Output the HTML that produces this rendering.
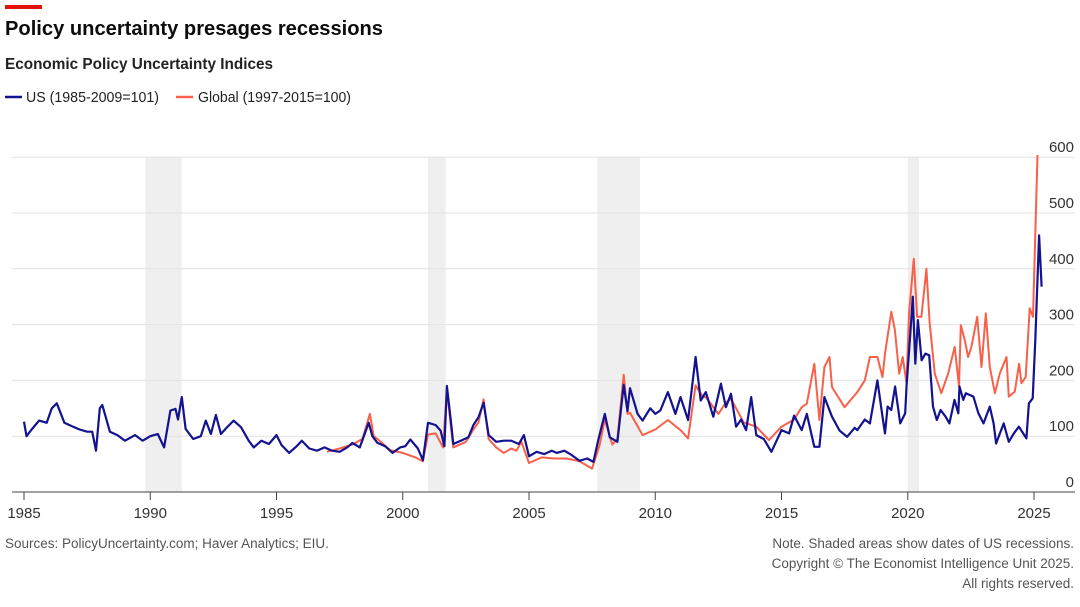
<!DOCTYPE html>
<html><head><meta charset="utf-8"><style>
body{margin:0;background:#fff;width:1080px;height:602px;overflow:hidden;font-family:"Liberation Sans",sans-serif;}
svg text{font-family:"Liberation Sans",sans-serif;}
</style></head><body>
<svg id="chart" width="1080" height="602" xmlns="http://www.w3.org/2000/svg">
<rect x="5" y="5" width="37" height="4" fill="#e3120b"/>
<text x="5" y="35" font-size="20" font-weight="bold" fill="#0c0c0c" textLength="378" lengthAdjust="spacingAndGlyphs">Policy uncertainty presages recessions</text>
<text x="5" y="69" font-size="15.5" font-weight="bold" fill="#222" textLength="268" lengthAdjust="spacingAndGlyphs">Economic Policy Uncertainty Indices</text>
<g>
<line x1="5" y1="97" x2="22" y2="97" stroke="#13128f" stroke-width="2.5"/>
<text x="26" y="102" font-size="14.5" fill="#222" textLength="133" lengthAdjust="spacingAndGlyphs">US (1985-2009=101)</text>
<line x1="176" y1="97" x2="193" y2="97" stroke="#f8604a" stroke-width="2.5"/>
<text x="198" y="102" font-size="14.5" fill="#222" textLength="153" lengthAdjust="spacingAndGlyphs">Global (1997-2015=100)</text>
</g>
<g id="rec"></g><g id="grid"></g><g id="xaxis"></g><g id="lines"></g>
<text x="5" y="548" font-size="13.5" fill="#555">Sources: PolicyUncertainty.com; Haver Analytics; EIU.</text>
<text x="1074" y="548" font-size="13.5" fill="#555" text-anchor="end">Note. Shaded areas show dates of US recessions.</text>
<text x="1074" y="568" font-size="13.5" fill="#555" text-anchor="end">Copyright © The Economist Intelligence Unit 2025.</text>
<text x="1074" y="588" font-size="13.5" fill="#555" text-anchor="end">All rights reserved.</text>
</svg>
<script>
const recStart=[1989.8,2001.0,2007.7,2020.0];
const recEnd=[1991.25,2001.7,2009.4,2020.45];
const yTicks=[0,100,200,300,400,500,600];
const xTicks=[1985,1990,1995,2000,2005,2010,2015,2020,2025];
const usYears=[1985.0,1985.1,1985.3,1985.6,1985.9,1986.1,1986.3,1986.6,1986.9,1987.2,1987.5,1987.7,1987.85,1988.0,1988.1,1988.4,1988.7,1989.0,1989.4,1989.7,1990.0,1990.3,1990.55,1990.8,1991.0,1991.1,1991.25,1991.4,1991.7,1992.0,1992.2,1992.4,1992.6,1992.8,1993.0,1993.3,1993.6,1993.9,1994.1,1994.4,1994.7,1995.0,1995.2,1995.5,1995.8,1996.0,1996.3,1996.6,1996.9,1997.2,1997.5,1997.8,1998.0,1998.3,1998.65,1998.8,1999.0,1999.3,1999.6,1999.9,2000.1,2000.3,2000.6,2000.8,2001.0,2001.3,2001.5,2001.65,2001.75,2001.9,2002.0,2002.3,2002.6,2002.8,2003.0,2003.2,2003.4,2003.7,2004.0,2004.3,2004.6,2004.8,2005.0,2005.3,2005.6,2005.9,2006.1,2006.4,2006.7,2007.0,2007.3,2007.55,2007.75,2008.0,2008.2,2008.5,2008.75,2008.9,2009.0,2009.3,2009.5,2009.8,2010.0,2010.2,2010.5,2010.8,2011.0,2011.3,2011.6,2011.8,2012.0,2012.3,2012.6,2012.8,2013.0,2013.2,2013.4,2013.6,2013.8,2014.0,2014.3,2014.6,2015.0,2015.3,2015.5,2015.8,2016.0,2016.3,2016.5,2016.7,2017.0,2017.3,2017.6,2017.9,2018.0,2018.3,2018.5,2018.8,2019.0,2019.1,2019.2,2019.35,2019.5,2019.7,2019.9,2019.95,2020.1,2020.2,2020.3,2020.4,2020.55,2020.7,2020.85,2021.0,2021.15,2021.3,2021.5,2021.65,2021.85,2022.0,2022.05,2022.2,2022.3,2022.6,2022.8,2023.0,2023.25,2023.4,2023.5,2023.8,2024.0,2024.2,2024.4,2024.7,2024.8,2024.95,2025.05,2025.2,2025.3];
const usValues=[126,100,112,128,124,150,159,124,118,112,108,108,74,150,156,108,102,92,102,92,100,104,80,146,149,130,170,113,95,100,128,104,138,104,114,128,116,92,80,92,86,102,84,70,82,92,78,74,80,74,72,80,88,80,124,100,88,82,70,80,82,94,78,57,124,120,110,82,190,130,86,92,98,120,134,160,102,90,92,92,86,102,64,72,68,74,70,74,66,56,60,54,94,140,98,90,192,145,186,140,128,150,140,146,179,140,170,129,242,164,179,135,194,152,176,117,130,111,170,102,95,72,111,105,137,111,140,81,81,170,135,110,99,115,111,130,123,200,135,105,153,147,189,123,141,189,284,350,230,308,236,248,245,153,129,147,135,123,165,141,189,165,177,171,141,123,153,123,87,123,90,105,117,96,159,168,272,460,368];
const glYears=[1997.0,1997.5,1998.0,1998.4,1998.7,1998.85,1999.0,1999.5,2000.0,2000.5,2000.8,2001.0,2001.3,2001.6,2001.75,2001.9,2002.0,2002.5,2002.8,2003.0,2003.2,2003.4,2003.7,2004.0,2004.3,2004.5,2004.7,2005.0,2005.5,2006.0,2006.5,2007.0,2007.5,2007.8,2008.0,2008.3,2008.5,2008.75,2008.9,2009.0,2009.5,2010.0,2010.5,2011.0,2011.3,2011.6,2011.9,2012.0,2012.5,2012.8,2013.0,2013.5,2014.0,2014.5,2015.0,2015.5,2015.8,2016.0,2016.3,2016.5,2016.7,2016.9,2017.0,2017.5,2018.0,2018.3,2018.5,2018.8,2019.0,2019.1,2019.35,2019.49,2019.66,2019.8,2019.95,2020.05,2020.24,2020.37,2020.54,2020.74,2020.87,2021.07,2021.33,2021.6,2021.86,2022.03,2022.1,2022.26,2022.39,2022.52,2022.75,2022.92,2023.09,2023.25,2023.45,2023.64,2023.91,2024.0,2024.24,2024.41,2024.5,2024.67,2024.83,2024.96,2025.14];
const glValues=[72,78,85,95,140,100,95,75,70,62,55,103,105,80,185,120,80,90,112,125,166,95,80,70,78,74,90,52,62,60,60,55,42,85,130,85,95,210,140,142,102,112,129,111,96,191,170,170,140,160,167,125,117,93,117,130,152,158,230,129,224,242,188,152,179,200,242,242,206,248,323,290,212,242,195,320,418,314,314,400,302,212,177,212,260,189,299,272,242,260,314,224,320,224,177,212,242,171,180,230,195,206,329,314,604];

const NS="http://www.w3.org/2000/svg";
const X=y=>24+(y-1985)*25.25;
const Y=v=>492-v*0.558;
function mk(tag,attrs,parent){const e=document.createElementNS(NS,tag);for(const k in attrs)e.setAttribute(k,attrs[k]);document.getElementById(parent).appendChild(e);return e;}
recStart.forEach((s,i)=>{
 const r=mk('rect',{x:X(s),y:157,width:X(recEnd[i])-X(s),height:335,fill:'#efefef'},'rec');
 
 
});
yTicks.forEach(v=>{
 if(v>0){const l=mk('line',{x1:12,x2:1075,y1:Y(v),y2:Y(v),stroke:'#e2e2e2','stroke-width':1},'grid');
 
 }
 const t=mk('text',{x:1074,y:Y(v)-5,'font-size':15,fill:'#333','text-anchor':'end'},'grid');
 t.textContent=v;
 
 
});
const ax=mk('line',{x1:12,x2:1075,y1:492,y2:492,stroke:'#444','stroke-width':1},'xaxis');


xTicks.forEach(y=>{
 const tk=mk('line',{x1:X(y),x2:X(y),y1:492,y2:500,stroke:'#444','stroke-width':1},'xaxis');
 
 
 const t=mk('text',{x:X(y),y:518,'font-size':15,fill:'#333','text-anchor':'middle'},'xaxis');
 t.textContent=y;
 
 
});
function path(xs,vs){return xs.map((x,i)=>(i?'L':'M')+X(x).toFixed(1)+','+Y(vs[i]).toFixed(1)).join('');}
const g=mk('path',{d:path(glYears,glValues),fill:'none',stroke:'#f8604a','stroke-width':2,'stroke-linejoin':'round'},'lines');


const u=mk('path',{d:path(usYears,usValues),fill:'none',stroke:'#13128f','stroke-width':2.2,'stroke-linejoin':'round'},'lines');


</script>
</body></html>
